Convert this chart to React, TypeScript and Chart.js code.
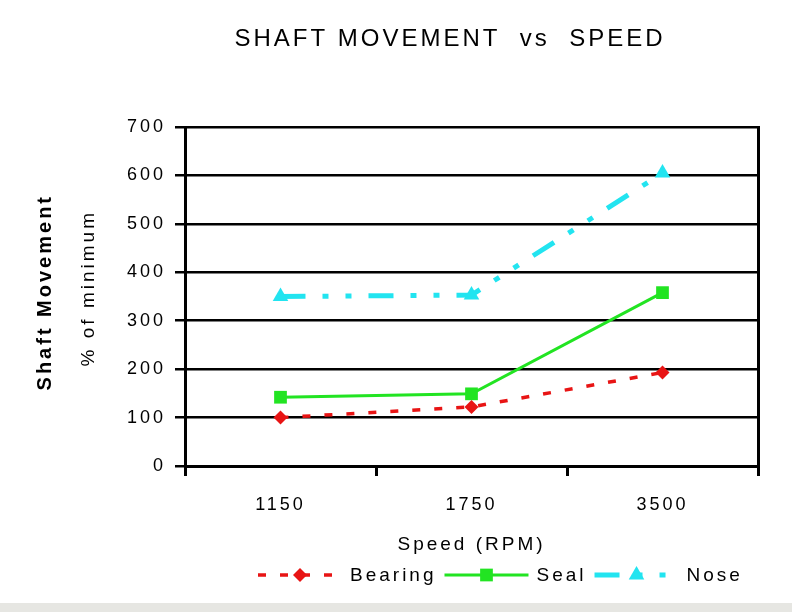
import React, { useEffect, useRef } from 'react'
import { Chart, registerables } from 'chart.js'

Chart.register(...registerables)

const speeds = ['1150', '1750', '3500']
const bearing = [100, 122, 193]
const seal = [142, 149, 358]
const nose = [350, 353, 605]
const yTicks = [0, 100, 200, 300, 400, 500, 600, 700]
const titleText = 'SHAFT MOVEMENT  vs  SPEED'

const RED = '#e81414'
const GREEN = '#22e422'
const CYAN = '#22e4f0'
const FONT = '"Liberation Sans", Arial, sans-serif'
const SPACING = '3px'

// excel-ish wide text spacing, reapplied because a canvas resize resets the context
const spacingPlugin = {
  id: 'spacing',
  beforeUpdate: (chart: any) => { chart.ctx.letterSpacing = SPACING },
  beforeDraw: (chart: any) => {
    const ctx = chart.ctx
    ctx.letterSpacing = SPACING
    ctx.save()
    ctx.fillStyle = '#ffffff'
    ctx.fillRect(0, 0, chart.width, chart.height)
    ctx.fillStyle = '#e6e6e2'
    ctx.fillRect(0, 603, chart.width, chart.height - 603)
    ctx.restore()
  },
}

// title sits a bit right of the canvas centre in the original slide
const titlePlugin = {
  id: 'slideTitle',
  afterDraw: (chart: any) => {
    const ctx = chart.ctx
    ctx.save()
    ctx.letterSpacing = SPACING
    ctx.font = `24px ${FONT}`
    ctx.fillStyle = '#000'
    ctx.textAlign = 'center'
    ctx.textBaseline = 'middle'
    ctx.fillText(titleText, 450, 39)
    ctx.restore()
  },
}

// legend with line sample + marker, like the old office charts
const legendPlugin = {
  id: 'lineLegend',
  afterDraw: (chart: any) => {
    const ctx = chart.ctx
    const y = 575
    let x = 258
    ctx.save()
    ctx.letterSpacing = SPACING
    ctx.font = `19px ${FONT}`
    ctx.textBaseline = 'middle'
    ctx.fillStyle = '#000'
    chart.data.datasets.forEach((ds: any) => {
      const len = 84
      ctx.strokeStyle = ds.borderColor
      ctx.lineWidth = ds.borderWidth
      ctx.setLineDash(ds.borderDash || [])
      ctx.beginPath()
      ctx.moveTo(x, y)
      ctx.lineTo(x + len, y)
      ctx.stroke()
      ctx.setLineDash([])
      const cx = x + len / 2
      const r = ds.pointRadius
      ctx.fillStyle = ds.pointBackgroundColor
      ctx.beginPath()
      if (ds.pointStyle === 'rectRot') {
        ctx.moveTo(cx, y - r)
        ctx.lineTo(cx + r, y)
        ctx.lineTo(cx, y + r)
        ctx.lineTo(cx - r, y)
      } else if (ds.pointStyle === 'rect') {
        const s = r * Math.SQRT1_2
        ctx.rect(cx - s, y - s, 2 * s, 2 * s)
      } else {
        ctx.moveTo(cx, y - r)
        ctx.lineTo(cx + r * 0.866, y + r / 2)
        ctx.lineTo(cx - r * 0.866, y + r / 2)
      }
      ctx.closePath()
      ctx.fill()
      ctx.fillStyle = '#000'
      ctx.fillText(ds.label, x + len + 8, y + 1)
      x += len + 8 + ctx.measureText(ds.label).width + 8
    })
    ctx.restore()
  },
}

const App = () => {
  const chartRef = useRef<HTMLCanvasElement | null>(null)

  useEffect(() => {
    if (!chartRef.current) return
    Chart.defaults.color = '#000'
    Chart.defaults.font.family = FONT

    const chart = new Chart(chartRef.current, {
      type: 'line',
      data: {
        labels: speeds,
        datasets: [
          {
            label: 'Bearing',
            data: bearing,
            borderColor: RED,
            backgroundColor: RED,
            borderWidth: 3.5,
            borderDash: [8, 14],
            pointStyle: 'rectRot',
            pointRadius: 7,
            pointBackgroundColor: RED,
            pointBorderWidth: 0,
          },
          {
            label: 'Seal',
            data: seal,
            borderColor: GREEN,
            backgroundColor: GREEN,
            borderWidth: 3,
            pointStyle: 'rect',
            pointRadius: 9,
            pointBackgroundColor: GREEN,
            pointBorderWidth: 0,
          },
          {
            label: 'Nose',
            data: nose,
            borderColor: CYAN,
            backgroundColor: CYAN,
            borderWidth: 5,
            borderDash: [25, 17, 6, 17, 6, 17],
            pointStyle: 'triangle',
            pointRadius: 9,
            pointBackgroundColor: CYAN,
            pointBorderWidth: 0,
          },
        ],
      },
      options: {
        responsive: false,
        animation: false,
        layout: { padding: { left: 0, right: 0, top: 127, bottom: 52 } },
        plugins: {
          legend: { display: false },
          tooltip: { enabled: false },
          title: { display: false },
        },
        scales: {
          x: {
            type: 'category',
            offset: true,
            grid: {
              offset: true,
              drawOnChartArea: false,
              drawTicks: true,
              tickLength: 10,
              color: '#000',
              lineWidth: 3,
            },
            border: { display: true, color: '#000', width: 3 },
            ticks: { padding: 18, font: { size: 18, family: FONT } },
            title: {
              display: true,
              text: 'Speed (RPM)',
              font: { size: 19, family: FONT, lineHeight: 1.2 },
              padding: { top: 0, bottom: 4 },
            },
            afterFit: (s: any) => { s.height = 94 },
          },
          y: {
            type: 'linear',
            position: 'left',
            weight: 0,
            min: 0,
            max: 700,
            afterBuildTicks: (s: any) => { s.ticks = yTicks.map((v) => ({ value: v })) },
            grid: { color: '#000', lineWidth: 2.5, tickLength: 10 },
            border: { display: true, color: '#000', width: 3 },
            ticks: { padding: 9, font: { size: 18, family: FONT } },
            title: {
              display: true,
              text: '  % of minimum',
              font: { size: 19, family: FONT, lineHeight: 1.2 },
              padding: { top: 20, bottom: 0 },
            },
            afterFit: (s: any) => { s.width = 128 },
          },
          yTitle: {
            type: 'linear',
            position: 'left',
            weight: 10,
            min: 0,
            max: 700,
            grid: { display: false },
            border: { display: false },
            ticks: { display: false },
            title: {
              display: true,
              text: ' Shaft Movement',
              font: { size: 20, weight: 'bold', family: FONT, lineHeight: 1.2 },
              padding: { top: 33, bottom: 0 },
            },
            afterFit: (s: any) => { s.width = 57 },
          },
          yRight: {
            type: 'linear',
            position: 'right',
            min: 0,
            max: 700,
            grid: { display: false },
            border: { display: true, color: '#000', width: 3 },
            ticks: { display: false },
            afterFit: (s: any) => { s.width = 34 },
          },
        },
      },
      plugins: [spacingPlugin, titlePlugin, legendPlugin],
    } as any)

    return () => chart.destroy()
  }, [])

  return (
    <div style={{ position: 'absolute', left: 0, top: 0, width: 792, height: 612 }}>
      <canvas ref={chartRef} width={792} height={612} />
    </div>
  )
}

export default App
